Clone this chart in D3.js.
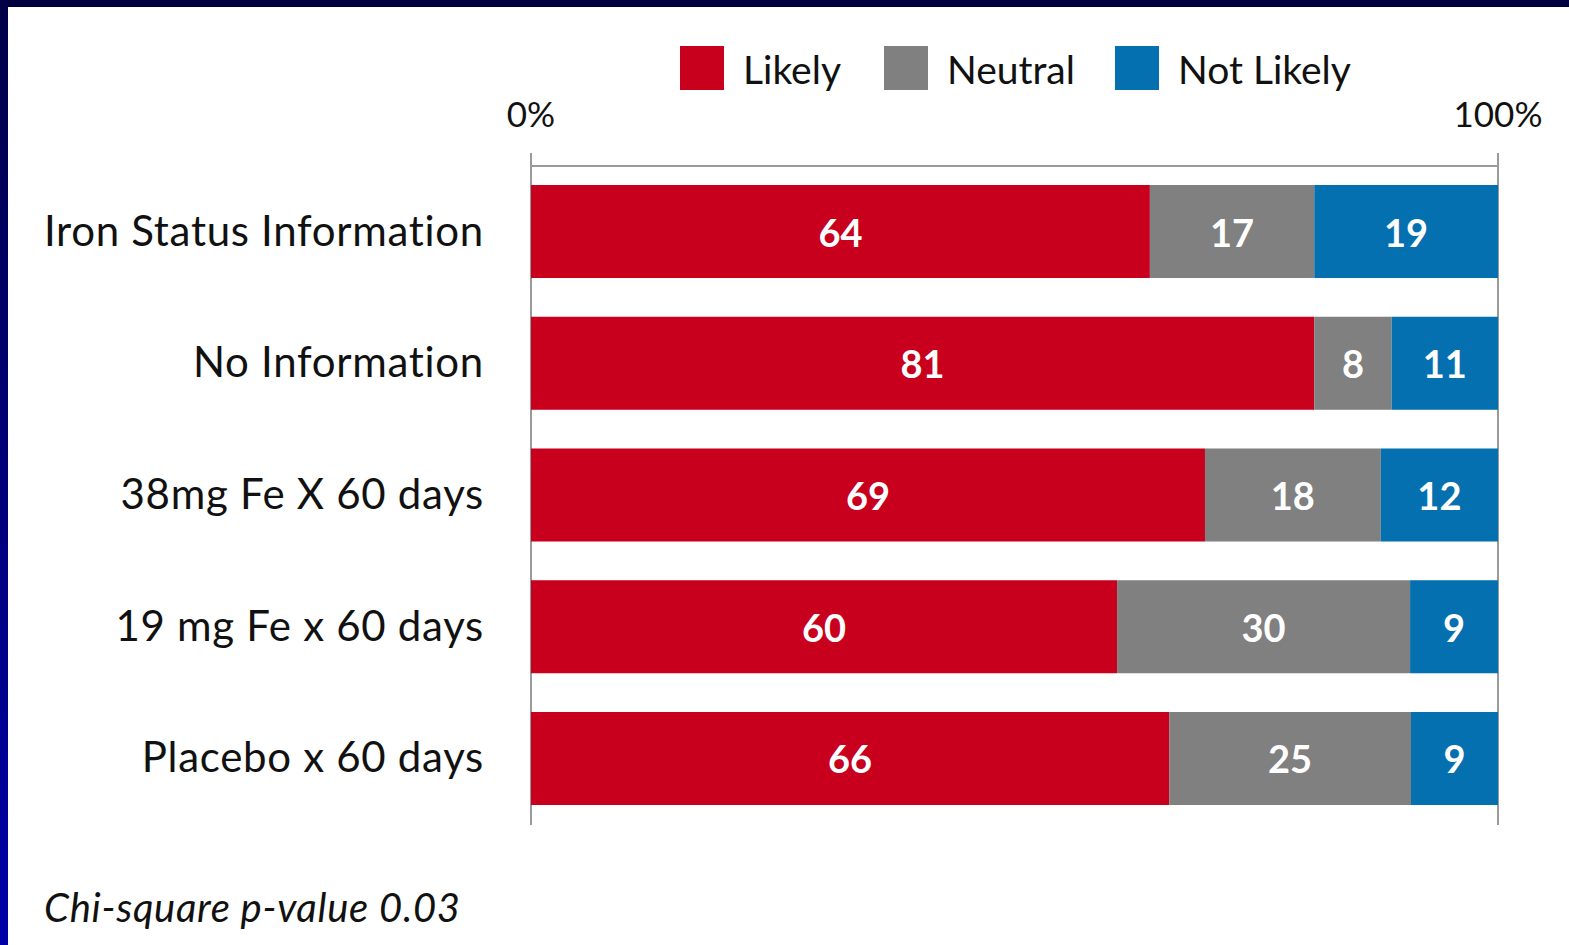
<!DOCTYPE html>
<html><head><meta charset="utf-8">
<script src="https://cdn.jsdelivr.net/npm/d3@7"></script>
<style>
html,body{margin:0;padding:0;background:#fff;overflow:hidden;}
svg{display:block;}
</style></head>
<body>
<script>
const categories = ["Iron Status Information","No Information","38mg Fe X 60 days","19 mg Fe x 60 days","Placebo x 60 days"];
const seriesNames = ["Likely","Neutral","Not Likely"];
const likely = [64,81,69,60,66];
const neutral = [17,8,18,30,25];
const notLikely = [19,11,12,9,9];
const tickLabels = ["0%","100%"];
const colors = ["#C8001E","#808080","#0570B0"];
const footnote = "Chi-square p-value 0.03";

const W=1569,H=945;
const svg=d3.select("body").append("svg").attr("width",W).attr("height",H);
const defs=svg.append("defs");
const g1=defs.append("linearGradient").attr("id","lb").attr("x1",0).attr("y1",0).attr("x2",0).attr("y2",1);
g1.append("stop").attr("offset","0%").attr("stop-color","#000048");
g1.append("stop").attr("offset","100%").attr("stop-color","#0000A8");
svg.append("rect").attr("x",0).attr("y",0).attr("width",W).attr("height",H).attr("fill","#fff");
svg.append("rect").attr("x",0).attr("y",0).attr("width",W).attr("height",7).attr("fill","#000040");
svg.append("rect").attr("x",0).attr("y",0).attr("width",8).attr("height",H).attr("fill","url(#lb)");

const font="Lato, 'Open Sans', sans-serif";
const data=categories.map((c,i)=>({cat:c,Likely:likely[i],Neutral:neutral[i],"Not Likely":notLikely[i]}));
const norm=data.map(d=>{const t=d.Likely+d.Neutral+d["Not Likely"];const o={cat:d.cat};seriesNames.forEach(s=>o[s]=d[s]/t);o.raw=d;return o;});
const stack=d3.stack().keys(seriesNames)(norm);

const x=d3.scaleLinear().domain([0,1]).range([531,1498]);
const y=d3.scaleBand().domain(categories).range([185,805]).paddingInner(0.294).paddingOuter(0);

// axis lines
const ax=svg.append("g");
ax.append("line").attr("x1",x(0)).attr("x2",x(1)).attr("y1",166).attr("y2",166).attr("stroke","#9a9a9a").attr("stroke-width",2);
[0,1].forEach(v=>ax.append("line").attr("x1",x(v)).attr("x2",x(v)).attr("y1",153).attr("y2",825).attr("stroke","#9a9a9a").attr("stroke-width",2));
svg.selectAll(".tick").data([0,1]).enter().append("text")
 .attr("x",d=>x(d)).attr("y",127).attr("text-anchor","middle")
 .attr("font-family",font).attr("font-size",35).attr("fill","#111")
 .text((d,i)=>tickLabels[i]);

stack.forEach((layer,si)=>{
  const gg=svg.append("g");
  gg.selectAll("rect").data(layer).enter().append("rect")
   .attr("x",d=>x(d[0])).attr("width",d=>x(d[1])-x(d[0]))
   .attr("y",d=>y(d.data.cat)).attr("height",y.bandwidth())
   .attr("fill",colors[si]);
  gg.selectAll("text").data(layer).enter().append("text")
   .attr("x",d=>(x(d[0])+x(d[1]))/2).attr("y",d=>y(d.data.cat)+y.bandwidth()/2+15)
   .attr("text-anchor","middle").attr("font-family",font).attr("font-weight","bold")
   .attr("font-size",38).attr("fill","#fff")
   .text(d=>d.data.raw[seriesNames[si]]);
});

// category labels
svg.selectAll(".cat").data(categories).enter().append("text")
 .attr("x",484).attr("y",d=>y(d)+y.bandwidth()/2+14).attr("text-anchor","end")
 .attr("font-family",font).attr("font-size",42).attr("letter-spacing",0.7).attr("fill","#111").text(d=>d);

// legend
const legX=[680,884,1115];
seriesNames.forEach((s,i)=>{
  svg.append("rect").attr("x",legX[i]).attr("y",46).attr("width",44).attr("height",44).attr("fill",colors[i]);
  svg.append("text").attr("x",legX[i]+63).attr("y",84).attr("font-family",font).attr("font-size",39).attr("fill","#111").text(s);
});

svg.append("text").attr("x",44).attr("y",922).attr("font-family",font).attr("font-style","italic")
 .attr("font-size",40).attr("letter-spacing",0.7).attr("fill","#111").text(footnote);
</script>
</body></html>
